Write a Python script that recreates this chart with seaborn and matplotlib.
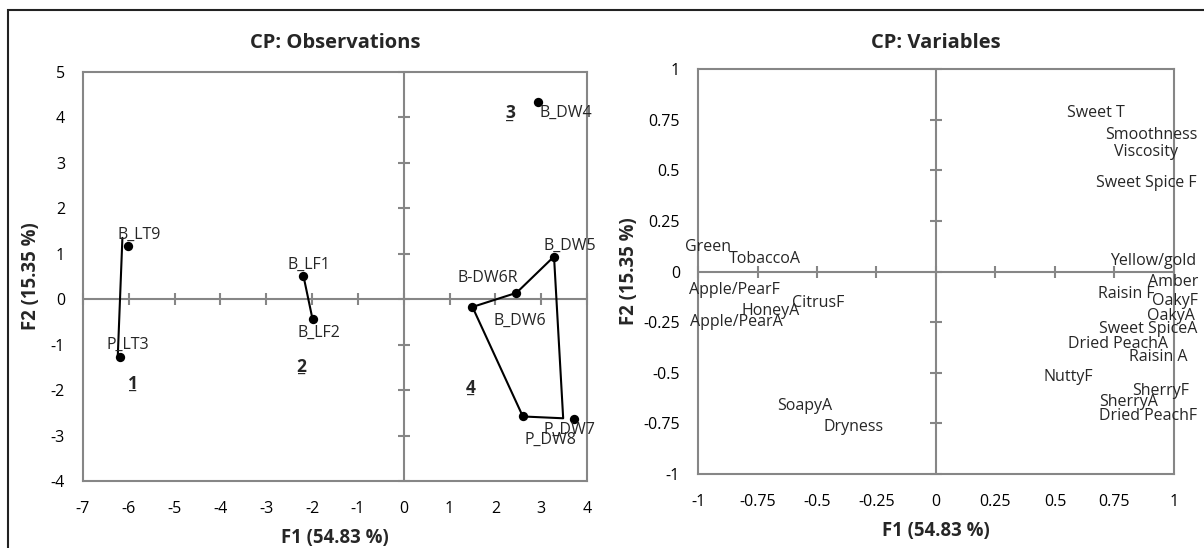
import matplotlib
matplotlib.use("Agg")
import matplotlib.pyplot as plt
import seaborn as sns
import pandas as pd
from matplotlib.patches import Rectangle

# ---- observations (PCA scores on F1/F2) ----
obs_names = ["B_LT9", "P_LT3", "B_LF1", "B_LF2", "B_DW4",
             "B_DW5", "B-DW6R", "B_DW6", "P_DW7", "P_DW8"]
obs_f1 = [-6.01, -6.19, -2.19, -1.99, 2.93, 3.28, 2.46, 1.50, 3.71, 2.60]
obs_f2 = [1.17, -1.28, 0.52, -0.44, 4.35, 0.94, 0.14, -0.17, -2.63, -2.58]
# label placement relative to each point (pixels, +y is up)
obs_label_dx = [11, 8, 6, 6, 28, 16, -29, 47, -4, 28]
obs_label_dy = [11, 13, 11, -14, -11, 11, 15, -14, -11, -23]

# ---- cluster numbers ----
cluster_names = ["1", "2", "3", "4"]
cluster_f1 = [-5.91, -2.23, 2.32, 1.46]
cluster_f2 = [-1.85, -1.46, 4.11, -1.93]

# ---- cluster outlines ----
hull1_f1 = [-6.14, -6.24]
hull1_f2 = [1.35, -1.23]
hull2_f1 = [-2.19, -1.99]
hull2_f2 = [0.52, -0.44]
hull4_f1 = [1.50, 2.46, 3.28, 3.48, 2.60, 1.50]
hull4_f2 = [-0.17, 0.14, 0.94, -2.62, -2.58, -0.17]

# ---- variables (correlations with F1/F2) ----
var_names = ["Sweet T", "Smoothness", "Viscosity", "Sweet Spice F", "Yellow/gold",
             "Amber", "Raisin F", "OakyF", "OakyA", "Sweet SpiceA", "Dried PeachA",
             "Raisin A", "NuttyF", "SherryF", "SherryA", "Dried PeachF",
             "Green", "TobaccoA", "Apple/PearF", "CitrusF", "HoneyA",
             "Apple/PearA", "SoapyA", "Dryness"]
var_f1 = [0.672, 0.906, 0.882, 0.882, 0.914, 0.995, 0.801, 1.006, 0.987, 0.890,
          0.765, 0.934, 0.555, 0.943, 0.809, 0.893,
          -0.960, -0.717, -0.846, -0.495, -0.693, -0.838, -0.550, -0.345]
var_f2 = [0.783, 0.675, 0.590, 0.435, 0.053, -0.050, -0.110, -0.148, -0.219, -0.283,
          -0.357, -0.421, -0.521, -0.588, -0.642, -0.714,
          0.121, 0.062, -0.093, -0.154, -0.193, -0.248, -0.663, -0.766]

# ---- axes ticks and titles ----
obs_xticks = [-7, -6, -5, -4, -3, -2, -1, 0, 1, 2, 3, 4]
obs_yticks = [-4, -3, -2, -1, 0, 1, 2, 3, 4, 5]
var_ticks = [-1, -0.75, -0.5, -0.25, 0, 0.25, 0.5, 0.75, 1]
var_tick_labels = ["-1", "-0.75", "-0.5", "-0.25", "0", "0.25", "0.5", "0.75", "1"]
x_title = "F1 (54.83 %)"
y_title = "F2 (15.35 %)"
obs_title = "CP: Observations"
var_title = "CP: Variables"

sns.set_theme(style="white")
plt.rcParams["font.family"] = ["Open Sans", "DejaVu Sans"]

W, H = 1204, 548
fig = plt.figure(figsize=(W / 100, H / 100), dpi=100)
fig.patch.set_facecolor("white")


def axes_px(left, top, right, bottom):
    return fig.add_axes([left / W, 1 - bottom / H, (right - left) / W, (bottom - top) / H])


ax1 = axes_px(83, 72, 587, 481)
ax2 = axes_px(698, 69, 1174, 474)

GREY = "#868686"
TICK_FS = 11.5


def style_axes(ax, xticks, yticks, xlabels, ylabels, title, ylab_px):
    ax.set_xlim(xticks[0], xticks[-1])
    ax.set_ylim(yticks[0], yticks[-1])
    ax.set_xticks(xticks)
    ax.set_xticklabels(xlabels)
    ax.set_yticks(yticks)
    ax.set_yticklabels(ylabels)
    ax.tick_params(axis="both", length=0, labelsize=TICK_FS, labelcolor="black")
    ax.tick_params(axis="x", pad=14.5)
    ax.tick_params(axis="y", pad=13)
    ax.set_xlabel("")
    ax.set_ylabel("")
    ax.grid(False)
    for sp in ax.spines.values():
        sp.set_visible(True)
        sp.set_color(GREY)
        sp.set_linewidth(1.5)
    # crosshair through the origin with its own tick marks
    ax.axhline(0, color=GREY, lw=1.5, zorder=1)
    ax.axvline(0, color=GREY, lw=1.5, zorder=1)
    ax.plot(xticks, [0] * len(xticks), ls="none", marker="|", ms=8, mew=1.5,
            color=GREY, zorder=1, clip_on=False)
    ax.plot([0] * len(yticks), yticks, ls="none", marker="_", ms=8, mew=1.5,
            color=GREY, zorder=1, clip_on=False)
    bbox = ax.get_position()
    w_px = bbox.width * W
    top_px = (1 - bbox.y1) * H
    bottom_px = (1 - bbox.y0) * H
    cx = (bbox.x0 + bbox.x1) / 2
    # titles sit on a common line across both panels
    fig.text(cx, 1 - 43 / H, title, ha="center", va="center", fontsize=14.5,
             fontweight="bold")
    fig.text(cx, 1 - (bottom_px + 57) / H, x_title, ha="center", va="center",
             fontsize=13.4, fontweight="bold")
    ax.text(-ylab_px / w_px, 0.5, y_title, transform=ax.transAxes, ha="center",
            va="center", rotation=90, fontsize=13.4, fontweight="bold")


style_axes(ax1, obs_xticks, obs_yticks, [str(t) for t in obs_xticks],
           [str(t) for t in obs_yticks], obs_title, 52)
style_axes(ax2, var_ticks, var_ticks, var_tick_labels, var_tick_labels, var_title, 69)

# ---- observations panel ----
for hx, hy in [(hull1_f1, hull1_f2), (hull2_f1, hull2_f2), (hull4_f1, hull4_f2)]:
    sns.lineplot(x=hx, y=hy, sort=False, estimator=None, color="black", lw=1.5,
                 ax=ax1, zorder=3)

obs_df = pd.DataFrame({"F1": obs_f1, "F2": obs_f2, "name": obs_names})
sns.scatterplot(data=obs_df, x="F1", y="F2", color="black", s=45, edgecolor="black",
                linewidth=0, ax=ax1, zorder=4, legend=False)
for name, x, y, dx, dy in zip(obs_names, obs_f1, obs_f2, obs_label_dx, obs_label_dy):
    ax1.annotate(name, (x, y), xytext=(dx, dy), textcoords="offset pixels",
                 ha="center", va="center", fontsize=TICK_FS, zorder=5)

for name, x, y in zip(cluster_names, cluster_f1, cluster_f2):
    ax1.annotate(name, (x, y), xytext=(0, -6), textcoords="offset pixels",
                 ha="center", va="baseline", fontsize=12.5, fontweight="bold")
    ax1.annotate("_", (x, y), xytext=(0, -6), textcoords="offset pixels",
                 ha="center", va="baseline", fontsize=12.5, fontweight="bold")

ax1.set_xlabel("")
ax1.set_ylabel("")

# ---- variables panel ----
for name, x, y in zip(var_names, var_f1, var_f2):
    ax2.text(x, y, name, ha="center", va="center", fontsize=TICK_FS, zorder=5,
             clip_on=False)

# frame around the whole figure
fig.patches.append(Rectangle((8 / W, -0.2), 1.2, 1.2 - 10 / H, transform=fig.transFigure,
                             fill=False, edgecolor="#222222", linewidth=1.5))

fig.savefig("out.png", dpi=100)
